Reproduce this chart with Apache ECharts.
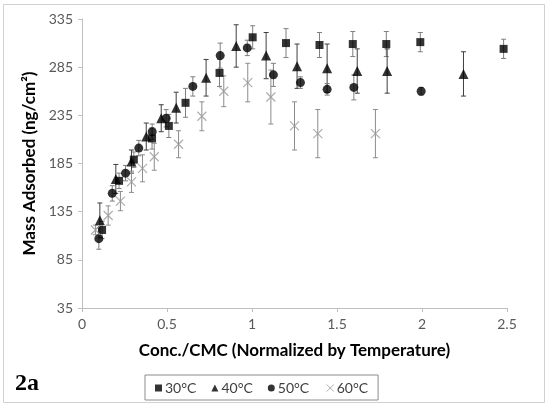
<!DOCTYPE html>
<html>
<head>
<meta charset="utf-8">
<script src="https://cdn.jsdelivr.net/npm/echarts@6/dist/echarts.min.js"></script>
<style>
html,body{margin:0;padding:0;background:#fff;}
#chart{width:549px;height:406px;}
</style>
</head>
<body>
<div id="chart"></div>
<script>
// ---- data ----
const seriesNames = ['30°C', '40°C', '50°C', '60°C'];
const xTicks = [0, 0.5, 1, 1.5, 2, 2.5];
const yTicks = [35, 85, 135, 185, 235, 285, 335];

const x30 = [0.118, 0.218, 0.305, 0.412, 0.511, 0.609, 0.809, 1.004, 1.20, 1.397, 1.593, 1.79, 1.99, 2.48];
const y30 = [116, 167, 189, 211, 224, 248, 279, 316, 310, 308, 309, 309, 311, 304];
const e30 = [9, 8, 8, 11, 12, 15, 14, 12, 15, 13, 13, 13, 10, 10];

const x40 = [0.105, 0.199, 0.291, 0.378, 0.466, 0.554, 0.73, 0.907, 1.083, 1.265, 1.442, 1.619, 1.795, 2.244];
const y40 = [126, 169, 187, 213, 232, 243, 274, 307, 297, 286, 284, 281, 281, 278];
const e40 = [18, 15, 12, 14, 14, 16, 19, 22, 24, 23, 25, 23, 23, 23];

const x50 = [0.099, 0.178, 0.256, 0.334, 0.413, 0.495, 0.652, 0.813, 0.972, 1.126, 1.285, 1.442, 1.599, 1.995];
const y50 = [107, 154, 175, 201, 218, 232, 265, 297, 305, 277, 269, 262, 264, 260];
const e50 = [11, 8, 8, 8, 8, 9, 10, 13, 8, 12, 6, 6, 13, 4];

const x60 = [0.079, 0.154, 0.226, 0.291, 0.356, 0.425, 0.568, 0.705, 0.834, 0.975, 1.111, 1.25, 1.387, 1.726];
const y60 = [116, 131, 146, 166, 180, 192, 205, 234, 260, 269, 254, 224, 216, 216];
const e60 = [5, 10, 10, 11, 14, 14, 14, 15, 16, 20, 28, 25, 25, 25];

// ---- build ----
const zip = (xs, ys, es) => xs.map((x, i) => [x, ys[i], es[i]]);
const CROSS = 'path://M0,0L10,10M10,0L0,10';
const sets = [
  {name: seriesNames[0], d: zip(x30, y30, e30), symbol: 'rect', size: 8, color: '#000', bar: '#7f7f7f'},
  {name: seriesNames[1], d: zip(x40, y40, e40), symbol: 'triangle', size: 10, color: '#000', bar: '#3f3f3f'},
  {name: seriesNames[2], d: zip(x50, y50, e50), symbol: 'circle', size: 9, color: '#000', bar: '#7f7f7f'},
  {name: seriesNames[3], d: zip(x60, y60, e60), symbol: CROSS, size: 9, color: '#9a9a9a', bar: '#8c8c8c'}
];

function errBar(barColor) {
  return function (params, api) {
    const x = api.value(0), y = api.value(1), e = api.value(2);
    const t = api.coord([x, y + e]);
    const b = api.coord([x, y - e]);
    const c = 2.5;
    const st = {stroke: barColor, lineWidth: 1};
    return {type: 'group', children: [
      {type: 'line', shape: {x1: t[0], y1: t[1], x2: b[0], y2: b[1]}, style: st},
      {type: 'line', shape: {x1: t[0] - c, y1: t[1], x2: t[0] + c, y2: t[1]}, style: st},
      {type: 'line', shape: {x1: b[0] - c, y1: b[1], x2: b[0] + c, y2: b[1]}, style: st}
    ]};
  };
}

const series = [];
sets.forEach(s => {
  series.push({
    type: 'custom', name: s.name + ' err', renderItem: errBar(s.bar),
    data: s.d, z: 1, silent: true, animation: false
  });
});
sets.forEach(s => {
  const isCross = s.symbol === CROSS;
  series.push({
    type: 'scatter', name: s.name, data: s.d.map(p => [p[0], p[1]]),
    symbol: s.symbol, symbolSize: s.size, z: 3, animation: false,
    itemStyle: isCross ? {color: 'none', borderColor: s.color, borderWidth: 1.2} : {color: s.color}
  });
});

const chart = echarts.init(document.getElementById('chart'), null, {renderer: 'canvas'});
const labelFont = {color: '#595959', fontSize: 14, fontFamily: 'Lato'};
chart.setOption({
  backgroundColor: '#fff',
  animation: false,
  grid: {left: 82, right: 42, top: 19, bottom: 98, containLabel: false},
  xAxis: {
    type: 'value', min: xTicks[0], max: xTicks[xTicks.length - 1], interval: 0.5,
    name: 'Conc./CMC (Normalized by Temperature)', nameLocation: 'middle', nameGap: 34,
    nameTextStyle: {fontWeight: 'bold', fontSize: 17, color: '#000', fontFamily: 'Lato'},
    axisLine: {show: true, lineStyle: {color: '#bfbfbf'}},
    axisTick: {show: true, length: 4, lineStyle: {color: '#bfbfbf'}},
    axisLabel: Object.assign({margin: 9}, labelFont),
    splitLine: {show: false}
  },
  yAxis: {
    type: 'value', min: yTicks[0], max: yTicks[yTicks.length - 1], interval: 50,
    name: 'Mass Adsorbed (ng/cm²)', nameLocation: 'middle', nameGap: 40, nameRotate: 90,
    nameTextStyle: {fontWeight: 'bold', fontSize: 17, color: '#000', fontFamily: 'Lato'},
    axisLine: {show: true, lineStyle: {color: '#bfbfbf'}},
    axisTick: {show: true, length: 4, lineStyle: {color: '#bfbfbf'}},
    axisLabel: Object.assign({margin: 9}, labelFont),
    splitLine: {show: false}
  },
  legend: {
    data: sets.map(s => ({name: s.name, icon: s.symbol,
      itemStyle: s.symbol === CROSS ? {color: 'none', borderColor: '#9a9a9a', borderWidth: 1} : {color: '#000'}})),
    left: 145, top: 375, orient: 'horizontal',
    itemWidth: 7, itemHeight: 7, itemGap: 15,
    borderColor: '#8c8c8c', borderWidth: 1, padding: [6, 10, 5, 10],
    textStyle: {fontSize: 14, color: '#404040', fontFamily: 'Lato', padding: [0, 0, 0, -2]}
  },
  graphic: [
    {type: 'rect', shape: {x: 3.5, y: 4.5, width: 541, height: 398}, style: {fill: 'none', stroke: '#d0d0d0', lineWidth: 1}, silent: true, z: -1},
    {type: 'text', left: 15, top: 372, style: {text: '2a', font: 'bold 24px "Liberation Serif"', fill: '#000'}}
  ],
  series: series
});
</script>
</body>
</html>
